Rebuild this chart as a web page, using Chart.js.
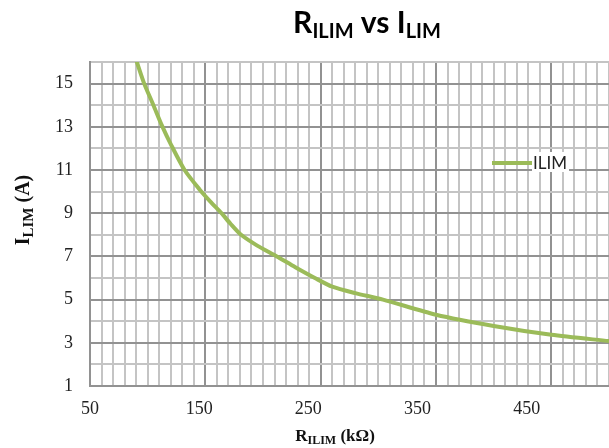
<!DOCTYPE html>
<html>
<head>
<meta charset="utf-8">
<script src="https://cdn.jsdelivr.net/npm/chart.js@4.4.0/dist/chart.umd.min.js"></script>
<style>
  html, body { margin: 0; padding: 0; background: #fff; }
  #wrap { width: 609px; height: 448px; }
</style>
</head>
<body>
<div id="wrap"><canvas id="ilimChart" width="609" height="448"></canvas></div>
<script>
'use strict';

// R_ILIM (kOhm) against I_LIM (A)
const rIlim = [90, 97, 105, 112, 120, 132, 145, 155, 164, 172, 181, 195, 212, 228, 245, 260, 280, 304, 350, 400, 450, 500];
const iLim = [16.1, 15.0, 14.0, 13.1, 12.2, 11.0, 10.1, 9.5, 9.0, 8.5, 8.0, 7.5, 7.0, 6.5, 6.0, 5.6, 5.3, 5.0, 4.3, 3.78, 3.37, 3.08];
const seriesName = 'ILIM';
const xTickLabels = [50, 150, 250, 350, 450];
const yTickLabels = [1, 3, 5, 7, 9, 11, 13, 15];

const GREEN = '#9bbb59';
const MINOR = '#c4c4c4';
const MAJOR = '#929292';
const SERIF = "'Liberation Serif', 'Times New Roman', serif";

// draws a line of text made of pieces (for the subscripts)
function drawPieces(ctx, pieces, x, y, family, weight) {
  let total = 0;
  pieces.forEach(p => {
    ctx.font = weight + ' ' + p.size + 'px ' + family;
    p.w = ctx.measureText(p.text).width;
    total += p.w;
  });
  let cx = x - total / 2;
  pieces.forEach(p => {
    ctx.font = weight + ' ' + p.size + 'px ' + family;
    ctx.fillText(p.text, cx, y + (p.dy || 0));
    cx += p.w;
  });
}

const textPlugin = {
  id: 'ilimText',
  afterDraw(chart) {
    const ctx = chart.ctx;
    ctx.save();
    ctx.fillStyle = '#000';
    ctx.textAlign = 'left';
    ctx.textBaseline = 'alphabetic';

    // chart title
    drawPieces(ctx, [
      { text: 'R', size: 30 },
      { text: 'ILIM', size: 20, dy: 5 },
      { text: ' vs ', size: 30 },
      { text: 'I', size: 30 },
      { text: 'LIM', size: 20, dy: 5 }
    ], 367, 33, 'Lato', 'bold');

    // x axis title
    ctx.fillStyle = '#111';
    drawPieces(ctx, [
      { text: 'R', size: 17 },
      { text: 'ILIM', size: 12, dy: 3 },
      { text: ' (kΩ)', size: 17 }
    ], 335, 441, SERIF, 'bold');

    // y axis title, rotated
    ctx.save();
    ctx.translate(29, 210);
    ctx.rotate(-Math.PI / 2);
    drawPieces(ctx, [
      { text: 'I', size: 20 },
      { text: 'LIM', size: 15, dy: 4 },
      { text: ' (A)', size: 20 }
    ], 0, 0, SERIF, 'bold');
    ctx.restore();

    // legend
    const ds = chart.data.datasets[0];
    ctx.font = '17px Lato';
    const tw = ctx.measureText(ds.label).width;
    ctx.fillStyle = '#fff';
    ctx.fillRect(532, 152, tw + 3, 20);
    ctx.strokeStyle = ds.borderColor;
    ctx.lineWidth = 4;
    ctx.beginPath();
    ctx.moveTo(492, 163);
    ctx.lineTo(532, 163);
    ctx.stroke();
    ctx.fillStyle = '#222';
    ctx.fillText(ds.label, 533, 169);
    ctx.restore();
  }
};

const tickFont = { family: SERIF, size: 18 };

document.addEventListener('DOMContentLoaded', () => {
  const ctx = document.getElementById('ilimChart').getContext('2d');
  new Chart(ctx, {
    type: 'line',
    data: {
      datasets: [{
        label: seriesName,
        data: rIlim.map((r, i) => ({ x: r, y: iLim[i] })),
        xAxisID: 'x',
        yAxisID: 'y',
        borderColor: GREEN,
        borderWidth: 4,
        pointRadius: 0,
        tension: 0.25,
        fill: false,
        clip: 0
      }]
    },
    options: {
      responsive: false,
      animation: false,
      events: [],
      layout: { padding: { top: 62, left: 0, right: 0, bottom: 0 } },
      plugins: {
        legend: { display: false },
        title: { display: false },
        tooltip: { enabled: false }
      },
      scales: {
        x: {
          type: 'linear',
          position: 'bottom',
          weight: 0,
          min: 50,
          max: 500,
          ticks: { display: false, stepSize: 10, autoSkip: false },
          grid: {
            drawTicks: false,
            lineWidth: 2,
            color: c => (c.tick && xTickLabels.includes(c.tick.value)) ? MAJOR : MINOR
          },
          border: { color: MAJOR, width: 2 },
          afterFit: s => { s.height = 0; }
        },
        // labels only: they sit slightly left of the major grid lines
        xLab: {
          type: 'linear',
          axis: 'x',
          position: 'bottom',
          weight: 1,
          min: 50,
          max: 525.4,
          grid: { display: false, drawTicks: false },
          border: { display: false },
          ticks: { padding: 12, font: tickFont, color: '#222', maxRotation: 0, autoSkip: false },
          afterBuildTicks: s => { s.ticks = xTickLabels.map(v => ({ value: v })); },
          afterFit: s => { s.height = 62; }
        },
        y: {
          type: 'linear',
          min: 1,
          max: 16,
          ticks: {
            stepSize: 1,
            autoSkip: false,
            padding: 17,
            font: tickFont,
            color: '#222',
            callback: v => yTickLabels.includes(v) ? v : ''
          },
          grid: {
            drawTicks: false,
            lineWidth: 2,
            color: c => (c.tick && yTickLabels.includes(c.tick.value)) ? MAJOR : MINOR
          },
          border: { color: MAJOR, width: 2 },
          afterFit: s => { s.width = 90; }
        }
      }
    },
    plugins: [textPlugin]
  });
});
</script>
</body>
</html>
